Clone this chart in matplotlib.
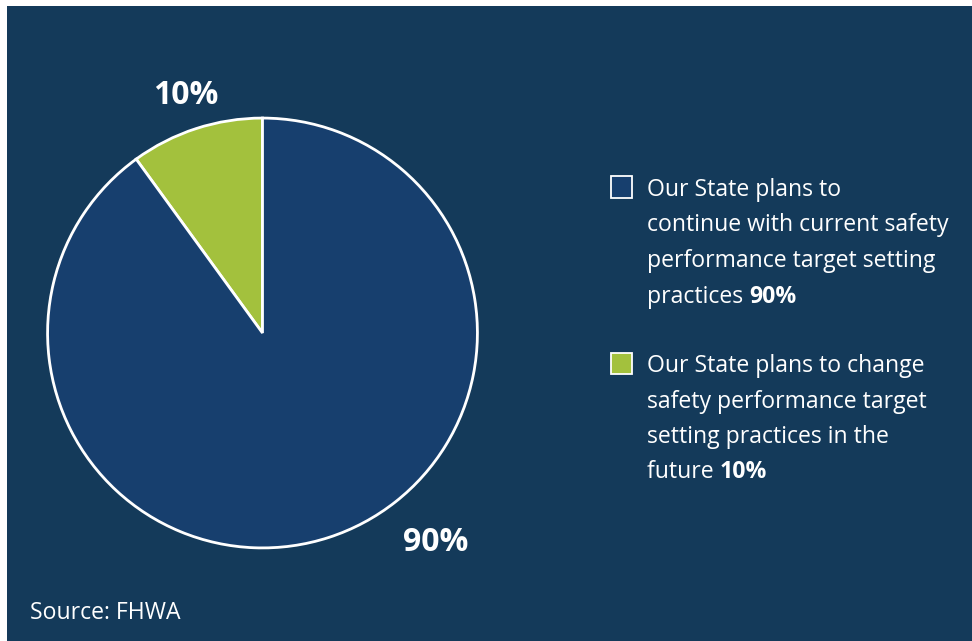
import matplotlib
matplotlib.use("Agg")
import numpy as np
import matplotlib.pyplot as plt
from matplotlib.patches import Rectangle

# Survey shares
labels = ["Our State plans to change safety performance target setting practices in the future",
          "Our State plans to continue with current safety performance target setting practices"]
shares = [10, 90]
pct_labels = ["10%", "90%"]

# legend text, broken into lines as drawn; last line ends with the bold value
legend_lines = [
    ["Our State plans to", "continue with current safety", "performance target setting", "practices "],
    ["Our State plans to change", "safety performance target", "setting practices in the", "future "],
]
legend_values = ["90%", "10%"]

BG = "#143A5A"
BLUE = "#173F6E"
GREEN = "#A3C13D"
FONT = "Open Sans"
FS = 16.6

W, H = 972, 641
fig = plt.figure(figsize=(W / 100, H / 100), dpi=100)
fig.patch.set_facecolor("white")
fig.patches.append(Rectangle((7 / W, 0), 1 - 7 / W, (H - 6) / H, transform=fig.transFigure,
                             facecolor=BG, edgecolor="none", zorder=-10))

# pie axes: centre (262.5, 333) px from top, radius 216 px
cx, cy, r = 262.5, H - 333, 216
ax = fig.add_axes([(cx - r) / W, (cy - r) / H, 2 * r / W, 2 * r / H])
ax.pie(shares, colors=[GREEN, BLUE], startangle=90, counterclock=True, radius=0.995,
       wedgeprops=dict(edgecolor="white", linewidth=2.0))
# pie() widens the limits to 1.25, pull them back so the disc fills the axes
ax.set_xlim(-1, 1)
ax.set_ylim(-1, 1)
ax.set_aspect("equal")
ax.axis("off")

label_pos = [(108, 1.157), (-50.4, 1.26)]
for txt, (ang, dist) in zip(pct_labels, label_pos):
    a = np.deg2rad(ang)
    ax.text(dist * np.cos(a), dist * np.sin(a), txt, ha="center", va="center",
            color="white", fontsize=23, fontweight="bold", family=FONT, clip_on=False)

# legend
renderer = fig.canvas.get_renderer()
box_cols = [BLUE, GREEN]
first_line_y = [187, 363]
line_gap = 35.5
for lines, val, col, y0 in zip(legend_lines, legend_values, box_cols, first_line_y):
    fig.patches.append(Rectangle((611 / W, (H - y0 - 10.5) / H), 21 / W, 21 / H,
                                 transform=fig.transFigure, facecolor=col,
                                 edgecolor="white", linewidth=1.3, zorder=2))
    for i, line in enumerate(lines):
        y = (H - (y0 + i * line_gap)) / H
        t = fig.text(647 / W, y, line, color="white", fontsize=FS, family=FONT,
                     va="center_baseline", ha="left")
        if i == len(lines) - 1:
            bb = t.get_window_extent(renderer)
            fig.text(bb.x1 / W, y, val, color="white", fontsize=FS, family=FONT,
                     fontweight="bold", va="center_baseline", ha="left")

fig.text(30 / W, (H - 610) / H, "Source: FHWA", color="white", fontsize=FS,
         family=FONT, va="center_baseline", ha="left")

fig.savefig("out.png", dpi=100, facecolor=fig.get_facecolor())
